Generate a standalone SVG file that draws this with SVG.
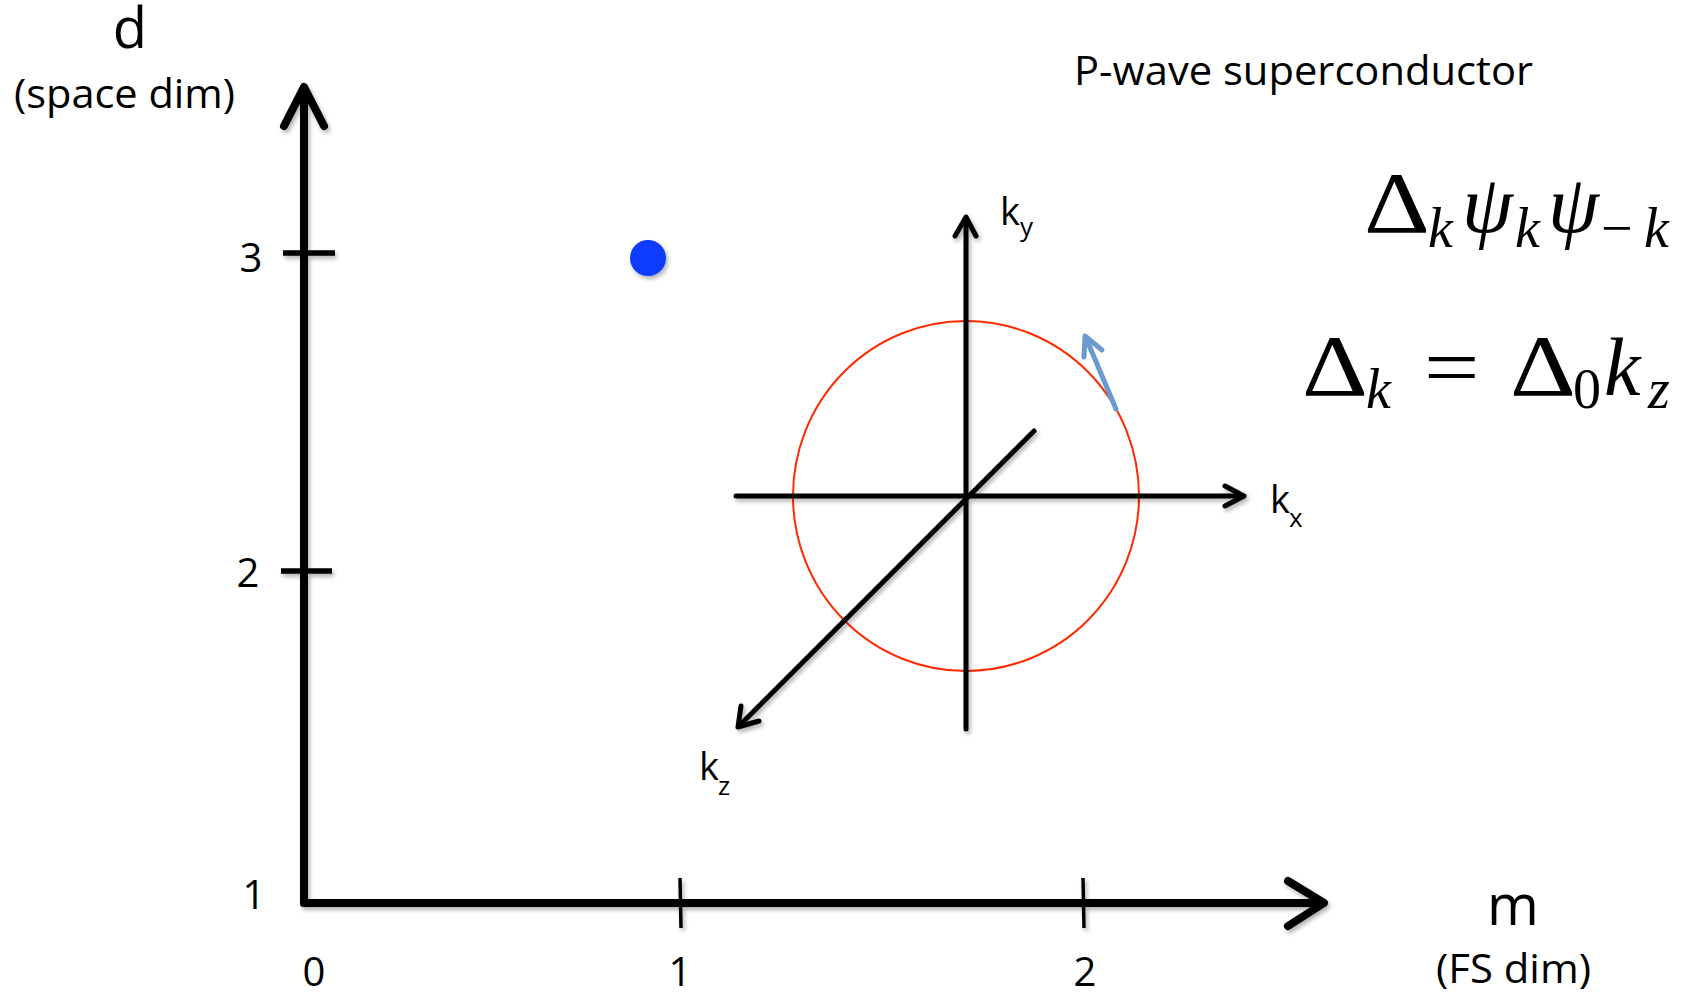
<svg xmlns="http://www.w3.org/2000/svg" width="1695" height="993" viewBox="0 0 1695 993">
<defs>
<filter id="sh" x="-20%" y="-20%" width="140%" height="140%">
<feDropShadow dx="2" dy="3" stdDeviation="2" flood-color="#000" flood-opacity="0.3"/>
</filter>
</defs>
<style>
.ax{fill:none;stroke:#000;stroke-width:8;stroke-linecap:round;stroke-linejoin:round}
.tk{fill:none;stroke:#000;stroke-width:5.5}
.tkm{fill:none;stroke:#000;stroke-width:3.5}
.kax{fill:none;stroke:#000;stroke-width:5;stroke-linecap:round;stroke-linejoin:round}
.t{font-family:"Open Sans","Liberation Sans",sans-serif;fill:#000}
.m{font-family:"Liberation Serif","DejaVu Serif",serif;fill:#000}
.mi{font-family:"Liberation Serif","DejaVu Serif",serif;font-style:italic;fill:#000}
</style>
<rect width="1695" height="993" fill="#fff"/>

<g id="connectors" filter="url(#sh)">
<path class="ax" d="M304,903 V88"/>
<path class="ax" d="M284,126 L304,87 L324,126"/>
<path class="ax" d="M304,903 H1322"/>
<path class="ax" d="M1288,881 L1324,903 L1288,926"/>
<path class="tk" d="M283,253 H335 M281,571 H332"/>
<path class="tkm" d="M680,878 L681,928 M1083,878 L1084,928"/>
</g>

<g id="k-space">
<ellipse cx="966" cy="496" rx="173" ry="175" fill="none" stroke="#ff2a00" stroke-width="2"/>
<g filter="url(#sh)">
<path class="kax" d="M966,729 V218"/>
<path class="kax" d="M955,236 L966,217 L976,236"/>
<path class="kax" d="M736,496 H1243"/>
<path class="kax" d="M1225,486 L1244,496 L1225,506"/>
<path class="kax" d="M1034,431 L739,726"/>
<path class="kax" d="M741,706 L738,727 L759,721"/>
</g>
<path d="M1116,409 L1086,338" fill="none" stroke="#6a9bd0" stroke-width="5" stroke-linecap="round"/>
<path d="M1084,357 L1085,336 L1102,350" fill="none" stroke="#6a9bd0" stroke-width="5" stroke-linecap="round" stroke-linejoin="round"/>
<text class="t" x="1000" y="225" font-size="38">k</text>
<text class="t" x="1020" y="236" font-size="26">y</text>
<text class="t" x="1270" y="513" font-size="38">k</text>
<text class="t" x="1289" y="527" font-size="26">x</text>
<text class="t" x="699" y="780" font-size="38">k</text>
<text class="t" x="718" y="795" font-size="26">z</text>
</g>

<g id="point">
<circle cx="648" cy="258" r="18" fill="#0a3bff" filter="url(#sh)"/>
</g>

<g id="labels">
<text class="t" x="130" y="48" font-size="56" text-anchor="middle">d</text>
<text class="t" x="14" y="108" font-size="40" textLength="221" lengthAdjust="spacingAndGlyphs">(space dim)</text>
<text class="t" x="251" y="272" font-size="40" text-anchor="middle">3</text>
<text class="t" x="248" y="587" font-size="40" text-anchor="middle">2</text>
<text class="t" x="254" y="909" font-size="40" text-anchor="middle">1</text>
<text class="t" x="314" y="986" font-size="40" text-anchor="middle">0</text>
<text class="t" x="680" y="986" font-size="40" text-anchor="middle">1</text>
<text class="t" x="1085" y="986" font-size="40" text-anchor="middle">2</text>
<text class="t" x="1513" y="925" font-size="56" text-anchor="middle">m</text>
<text class="t" x="1436" y="983" font-size="40" textLength="155" lengthAdjust="spacingAndGlyphs">(FS dim)</text>
<text class="t" x="1074" y="85" font-size="41" textLength="459" lengthAdjust="spacingAndGlyphs">P-wave superconductor</text>
</g>

<g id="formulas">
<text class="m" transform="translate(1364,232) scale(1.25,1.05)" font-size="82">Δ</text>
<text class="mi" x="1428" y="247" font-size="56">k</text>
<text class="mi" x="1462" y="232" font-size="82">ψ</text>
<text class="mi" x="1515" y="247" font-size="56">k</text>
<text class="mi" x="1548" y="232" font-size="82">ψ</text>
<text class="m" x="1601" y="247" font-size="56">−</text>
<text class="mi" x="1644" y="247" font-size="56">k</text>

<text class="m" transform="translate(1302,395) scale(1.25,1.05)" font-size="82">Δ</text>
<text class="mi" x="1366" y="408" font-size="56">k</text>
<text class="m" transform="translate(1424,395) scale(1.2,1)" font-size="82">=</text>
<text class="m" transform="translate(1510,395) scale(1.25,1.05)" font-size="82">Δ</text>
<text class="m" x="1573" y="408" font-size="56">0</text>
<text class="mi" x="1604" y="395" font-size="82">k</text>
<text class="mi" x="1648" y="408" font-size="56">z</text>
</g>
</svg>
